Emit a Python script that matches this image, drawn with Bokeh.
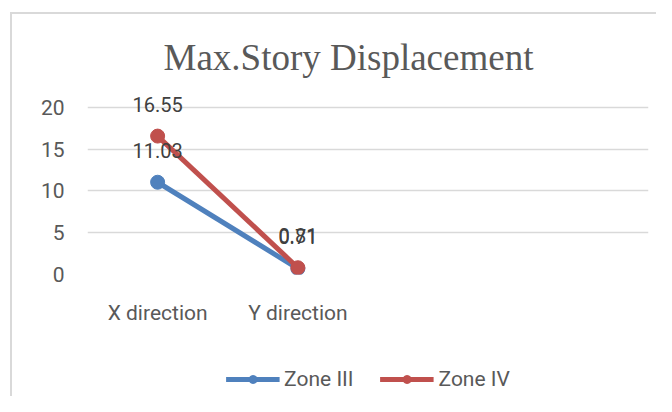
from bokeh.plotting import figure
from bokeh.models import ColumnDataSource, Legend, LegendItem, FactorRange, Range1d
from bokeh.layouts import column
from bokeh.core.properties import value
from bokeh.embed import file_html
from bokeh.resources import INLINE

categories = ["X direction", "Y direction", " ", "  "]
series_x = ["X direction", "Y direction"]
zone3 = [11.03, 0.71]
zone4 = [16.55, 0.81]
zone3_labels = ["11.03", "0.71"]
zone4_labels = ["16.55", "0.81"]
series_names = ["Zone III", "Zone IV"]
y_ticks = [0, 5, 10, 15, 20]

FONT = "Roboto"
BLUE = "#4F81BD"
RED = "#C0504D"

p = figure(width=644, height=326, x_range=FactorRange(*categories), y_range=(0, 22),
           output_backend="svg", toolbar_location=None,
           min_border_left=75, min_border_right=3, min_border_top=76, min_border_bottom=66)
p.title.text = "Max.Story Displacement"
p.title.align = "left"
p.title.offset = 76
p.title.text_font = "Liberation Serif"
p.title.text_font_size = "37px"
p.title.text_font_style = "normal"
p.title.text_color = "#595959"
p.title.standoff = 26

p.outline_line_color = None
p.xgrid.grid_line_color = None
p.ygrid.grid_line_color = "#d9d9d9"
p.ygrid.grid_line_width = 1.5
p.yaxis.ticker = y_ticks
p.yaxis.axis_line_color = None
p.xaxis.axis_line_color = None
for ax in (p.xaxis, p.yaxis):
    ax.major_tick_line_color = None
    ax.minor_tick_line_color = None
    ax.major_label_text_font = FONT
    ax.major_label_text_font_size = "21px"
    ax.major_label_text_color = "#595959"
p.yaxis.major_label_standoff = 17
p.xaxis.major_label_standoff = 20

s3 = ColumnDataSource(dict(x=series_x, y=zone3, t=zone3_labels))
s4 = ColumnDataSource(dict(x=series_x, y=zone4, t=zone4_labels))

p.line("x", "y", source=s3, line_color=BLUE, line_width=5)
p.scatter("x", "y", source=s3, size=14, fill_color=BLUE, line_color=BLUE)
p.line("x", "y", source=s4, line_color=RED, line_width=5)
p.scatter("x", "y", source=s4, size=14, fill_color=RED, line_color=RED)

for s in (s3, s4):
    p.text("x", "y", text="t", source=s, y_offset=-32, text_align="center",
           text_baseline="middle", text_font=value(FONT), text_font_size="20px",
           text_color="#404040")

# legend strip below the chart (series drawn out of view; only the legend shows)
pl = figure(width=644, height=56, x_range=FactorRange(*categories), y_range=Range1d(100, 101),
            output_backend="svg", toolbar_location=None,
            min_border_left=0, min_border_right=8, min_border_top=22, min_border_bottom=0,
            x_axis_location=None, y_axis_location=None)
pl.grid.visible = False
pl.outline_line_color = None
items = []
for name, src, col in zip(series_names, [s3, s4], [BLUE, RED]):
    lr = pl.line("x", "y", source=src, line_color=col, line_width=5)
    cr = pl.scatter("x", "y", source=src, size=14, fill_color=col, line_color=col)
    items.append(LegendItem(label=name, renderers=[lr, cr]))
legend = Legend(items=items, orientation="horizontal", location="center",
                label_text_font=FONT, label_text_font_size="21px", label_text_color="#595959",
                glyph_width=54, glyph_height=20, label_height=20, label_standoff=5, spacing=26,
                border_line_color=None, background_fill_alpha=0, padding=4, margin=0)
pl.add_layout(legend, "center")

layout = column(p, pl, spacing=0)
layout.styles = {"border-left": "2px solid #d9d9d9", "border-top": "2px solid #d9d9d9",
                 "margin-left": "10px", "margin-top": "12px"}

open("out.html", "w").write(file_html(layout, INLINE))
